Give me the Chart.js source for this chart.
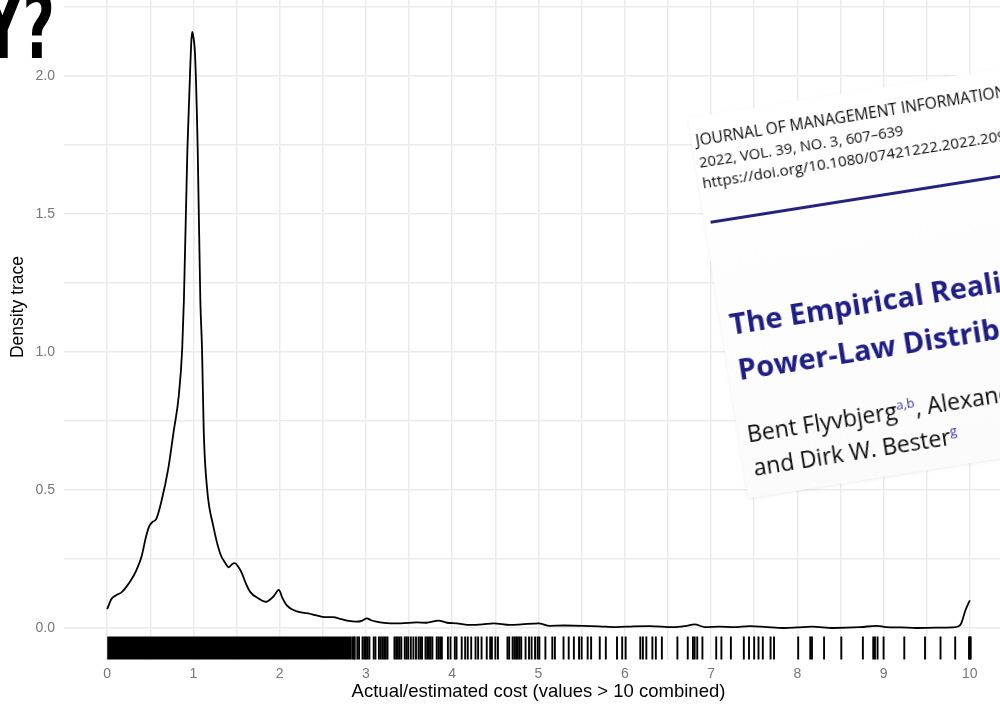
<!DOCTYPE html>
<html>
<head>
<meta charset="utf-8">
<script src="https://cdn.jsdelivr.net/npm/chart.js@4.4.1/dist/chart.umd.min.js"></script>
<style>
  html, body { margin: 0; padding: 0; background: #fff; overflow: hidden; }
  #wrap { position: relative; width: 1000px; height: 704px; overflow: hidden; }
  #chart1 { position: absolute; left: 0; top: -46px; }
  #bigText {
    position: absolute; left: -145px; top: -18px; width: 200px; text-align: right;
    font-family: "DejaVu Sans", sans-serif; font-weight: bold; font-size: 90px; line-height: 90px;
    color: #000; transform: scaleX(0.62); transform-origin: right top; z-index: 3;
  }
  #paper {
    position: absolute; left: 688px; top: 118px; width: 440px; height: 385px;
    background: linear-gradient(#fff, #fbfbfb); box-shadow: 0 1px 3px rgba(0,0,0,0.08);
    transform: rotate(-9deg); transform-origin: 0 0; z-index: 2;
    font-family: "Open Sans", sans-serif; white-space: nowrap;
  }
  #paper div { position: absolute; line-height: 1; }
  .jrnl { color: #0a0a0a; left: 4px; }
  .rule { left: 6px; top: 105px; width: 440px; height: 3px; background: #24237d; }
  .ttl { font-size: 29px; font-weight: 700; color: #1f1e86; }
  .auth { font-size: 23px; color: #0a0a0a; }
  .auth sup { font-size: 13px; color: #3a35b0; vertical-align: 9px; }
</style>
</head>
<body>
<div id="wrap">
  <canvas id="chart1" width="1013" height="750"></canvas>
  <div id="bigText">Y?</div>
  <div id="paper">
    <div class="jrnl" style="top:16px; font-size:15.6px">JOURNAL OF MANAGEMENT INFORMATION SYSTEMS</div>
    <div class="jrnl" style="top:38px; font-size:14.8px">2022, VOL. 39, NO. 3, 607–639</div>
    <div class="jrnl" style="top:59px; font-size:15.2px">https://doi.org/10.1080/07421222.2022.2096544</div>
    <div class="rule"></div>
    <div class="ttl" style="left:9px; top:195px">The Empirical Reality of IT Project Cost Overruns:</div>
    <div class="ttl" style="left:10px; top:241px">Power-Law Distribution</div>
    <div class="auth" style="left:9px; top:310px">Bent Flyvbjerg<sup>a,b</sup>, Alexander Budzier<sup>c</sup>, Jong Seok Lee<sup>d</sup></div>
    <div class="auth" style="left:10px; top:344px">and Dirk W. Bester<sup>g</sup></div>
  </div>
</div>
<script>
// density trace
const densityX = [0.00, 0.05, 0.10, 0.17, 0.22, 0.27, 0.34, 0.40, 0.45, 0.49, 0.53, 0.57, 0.63, 0.71, 0.77,
    0.83, 0.87, 0.89, 0.93, 0.95, 0.975, 0.985, 0.995, 1.02, 1.05, 1.08, 1.10, 1.12, 1.16, 1.23, 1.31,
    1.37, 1.41, 1.45, 1.48, 1.52, 1.56, 1.61, 1.66, 1.75, 1.84, 1.93, 1.99, 2.03, 2.08, 2.20, 2.33,
    2.41, 2.53, 2.62, 2.70, 2.78, 2.89, 2.95, 3.01, 3.06, 3.12, 3.28, 3.40, 3.59, 3.70, 3.84, 3.94,
    4.05, 4.21, 4.35, 4.48, 4.67, 4.80, 5.00, 5.13, 5.30, 5.52, 5.70, 5.90, 6.10, 6.29, 6.56, 6.70,
    6.81, 6.93, 7.10, 7.26, 7.45, 7.65, 7.84, 8.00, 8.17, 8.42, 8.73, 8.92, 9.03, 9.20, 9.38, 9.60,
    9.80, 9.87, 9.90, 9.95, 10.00];
const densityY = [0.068, 0.105, 0.118, 0.130, 0.148, 0.170, 0.210, 0.260, 0.330, 0.370, 0.385, 0.395, 0.460, 0.580, 0.710,
    0.840, 1.010, 1.190, 1.730, 1.910, 2.120, 2.160, 2.150, 2.070, 1.730, 1.190, 1.010, 0.710, 0.500, 0.370, 0.270,
    0.235, 0.220, 0.232, 0.235, 0.222, 0.200, 0.160, 0.130, 0.108, 0.095, 0.115, 0.138, 0.110, 0.083, 0.060, 0.053,
    0.047, 0.039, 0.039, 0.033, 0.027, 0.023, 0.026, 0.035, 0.028, 0.023, 0.017, 0.017, 0.020, 0.019, 0.027, 0.019,
    0.017, 0.011, 0.013, 0.017, 0.011, 0.013, 0.017, 0.008, 0.009, 0.008, 0.006, 0.003, 0.006, 0.007, 0.003, 0.007,
    0.013, 0.003, 0.005, 0.003, 0.007, 0.003, 0.000, 0.002, 0.005, 0.000, 0.003, 0.008, 0.003, 0.002, 0.000, 0.001,
    0.002, 0.006, 0.017, 0.065, 0.100];

// rug: solid block where the ticks merge, then single observations
const rugDenseRange = [0, 2.83];
const rugTicks = [2.84, 2.86, 2.87, 2.90, 2.92, 2.96, 2.98, 3.00, 3.02, 3.04, 3.09, 3.11, 3.15, 3.17, 3.19, 3.21,
    3.23, 3.25, 3.33, 3.35, 3.37, 3.39, 3.41, 3.45, 3.47, 3.49, 3.52, 3.55, 3.58, 3.61, 3.63, 3.65, 3.69, 3.71,
    3.73, 3.75, 3.77, 3.82, 3.84, 3.86, 3.88, 3.95, 3.98, 4.03, 4.05, 4.11, 4.15, 4.18, 4.22, 4.27, 4.30, 4.34,
    4.40, 4.44, 4.46, 4.50, 4.53, 4.64, 4.66, 4.70, 4.72, 4.74, 4.76, 4.78, 4.80, 4.85, 4.89, 4.92, 4.96, 4.99,
    5.01, 5.08, 5.16, 5.19, 5.29, 5.35, 5.41, 5.47, 5.50, 5.57, 5.61, 5.71, 5.78, 5.91, 5.97, 6.01, 6.18, 6.21,
    6.25, 6.32, 6.36, 6.43, 6.61, 6.73, 6.79, 6.81, 6.84, 6.90, 7.06, 7.12, 7.23, 7.38, 7.44, 7.50, 7.55, 7.60,
    7.69, 7.73, 8.01, 8.15, 8.17, 8.31, 8.51, 8.76, 8.88, 8.90, 8.93, 9.00, 9.24, 9.48, 9.66, 9.83, 9.99, 10.00,
    10.01];

const xTickLabels = ['0', '1', '2', '3', '4', '5', '6', '7', '8', '9', '10'];
const yTickLabels = ['0.0', '0.5', '1.0', '1.5', '2.0'];

const rugTop = -0.031;
const rugBottom = -0.114;
const gridColor = '#ebebeb';
const tickColor = '#777';

Chart.defaults.font.family = "'Liberation Sans', Arial, sans-serif";

let ctx1 = document.getElementById('chart1').getContext('2d');
let densityChart = new Chart(ctx1, {
    type: 'scatter',
    data: {
        datasets: [{
            label: 'density',
            data: densityX.map((x, i) => ({ x: x, y: densityY[i] })),
            showLine: true,
            borderColor: '#000',
            borderWidth: 1.8,
            pointRadius: 0,
            cubicInterpolationMode: 'monotone',
            fill: false
        }, {
            label: 'rug block',
            data: rugDenseRange.map(x => ({ x: x, y: rugTop })),
            showLine: true,
            borderWidth: 0,
            pointRadius: 0,
            backgroundColor: '#000',
            fill: { value: rugBottom }
        }, {
            label: 'rug',
            data: rugTicks.map(x => ({ x: x, y: (rugTop + rugBottom) / 2 })),
            pointStyle: 'line',
            rotation: 90,
            radius: 11.5,
            borderWidth: 1.9,
            borderColor: '#000',
            backgroundColor: '#000'
        }]
    },
    options: {
        responsive: false,
        animation: false,
        layout: { padding: 0, autoPadding: false },
        plugins: {
            legend: { display: false },
            tooltip: { enabled: false }
        },
        scales: {
            x: {
                type: 'linear',
                min: -0.5,
                max: 10.5,
                afterFit: s => { s.height = 44; s.paddingLeft = 0; s.paddingRight = 0; },
                border: { display: false },
                grid: {
                    drawTicks: false,
                    lineWidth: 1.5,
                    color: c => (c.tick.value < 0 || c.tick.value > 10) ? 'rgba(0,0,0,0)' : gridColor
                },
                ticks: {
                    stepSize: 0.5,
                    includeBounds: false,
                    autoSkip: false,
                    maxRotation: 0,
                    padding: 6,
                    color: tickColor,
                    font: { size: 14 },
                    callback: v => Number.isInteger(v) ? xTickLabels[v] : ''
                },
                title: {
                    display: true,
                    text: 'Actual/estimated cost (values > 10 combined)',
                    color: '#000',
                    font: { size: 18.5 },
                    padding: { top: 0, bottom: 1 }
                }
            },
            y: {
                min: -0.116,
                max: 2.442,
                afterFit: s => { s.width = 64; s.paddingTop = 0; s.paddingBottom = 0; },
                border: { display: false },
                grid: { drawTicks: false, lineWidth: 1.5, color: gridColor },
                ticks: {
                    stepSize: 0.25,
                    includeBounds: false,
                    autoSkip: false,
                    padding: 9,
                    color: tickColor,
                    font: { size: 14 },
                    callback: v => {
                        let k = Math.round(v * 2);
                        return Math.abs(v * 2 - k) < 1e-6 ? yTickLabels[k] : '';
                    }
                },
                title: {
                    display: true,
                    text: 'Density trace',
                    color: '#000',
                    font: { size: 17.5 },
                    padding: { top: 8, bottom: 0 }
                }
            }
        }
    }
});
</script>
</body>
</html>
